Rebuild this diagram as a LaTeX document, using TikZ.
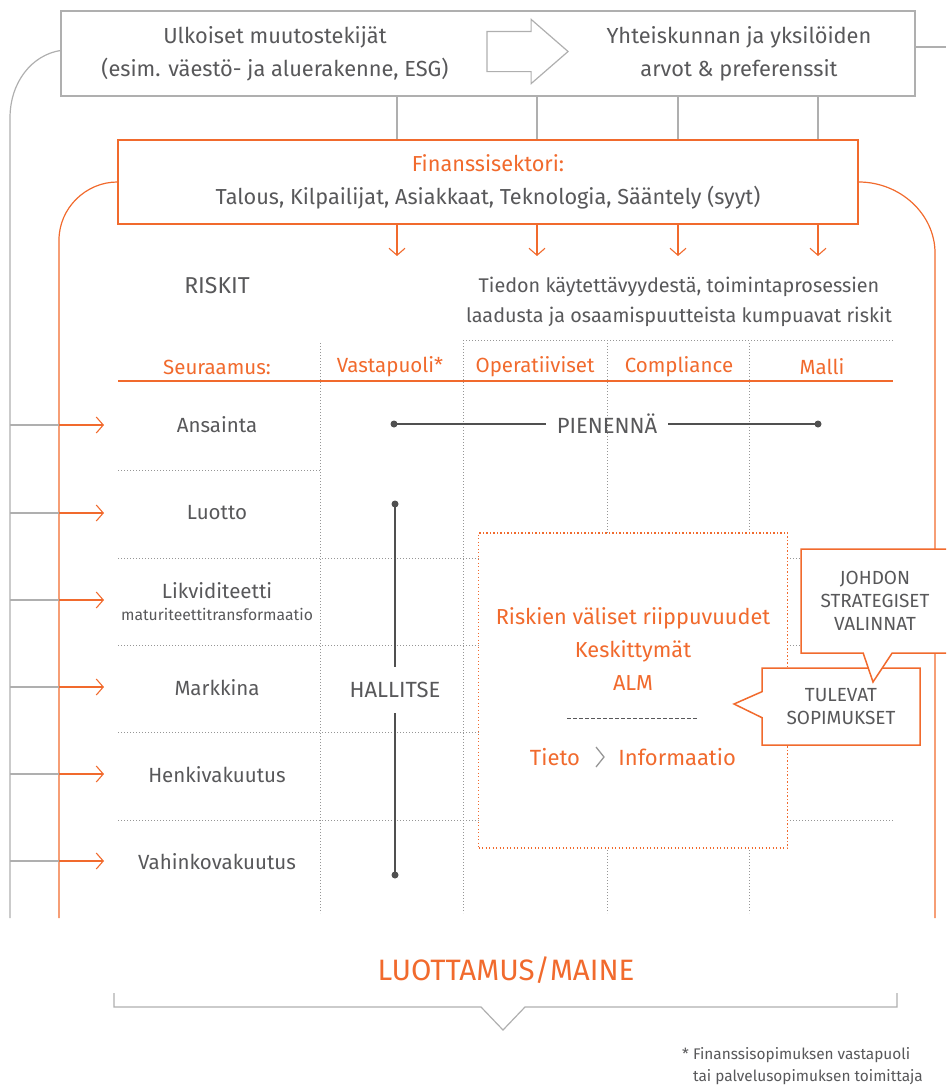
\documentclass[tikz,border=0pt]{standalone}
\usepackage{fontspec}
\setmainfont{Fira Sans}
\usetikzlibrary{positioning,shapes.arrows,shapes.callouts,arrows.meta}
\definecolor{orng}{RGB}{241,106,45}
\definecolor{txtgray}{RGB}{88,88,90}
\definecolor{lngray}{RGB}{175,175,175}
\definecolor{dotgray}{RGB}{150,150,150}
\definecolor{dkgray}{RGB}{80,80,80}
\tikzset{%
  txt/.style = {text=txtgray, font=\fontsize{20.5}{30}\selectfont,
        inner sep=2pt, align=center},
  otxt/.style = {txt, text=orng},
  graybox/.style = {rectangle, draw=lngray, line width=1.2pt, inner sep=0pt},
  orbox/.style = {rectangle, draw=orng, line width=1.4pt, fill=white,
        align=center, inner sep=0pt},
  grayline/.style = {draw=lngray, line width=1.2pt},
  orline/.style = {draw=orng, line width=1.2pt},
  orarrow/.style = {-{Straight Barb[length=7pt,width=16pt]}, draw=orng,
        line width=1.1pt},
  gridline/.style = {draw=dotgray, line width=0.8pt,
        dash pattern=on 0.9pt off 2.1pt},
  darkline/.style = {draw=dkgray, line width=1.2pt},
  callbox/.style = {rectangle callout, draw=orng, line width=1.5pt,
        fill=white, align=center, text=txtgray,
        font=\fontsize{19}{23}\selectfont}
}

\begin{document}
\begin{tikzpicture}[x=1pt,y=-1pt]
   \useasboundingbox (0,0) rectangle (946,1092);
   \clip (0,0) rectangle (946,1092);

   \node[graybox, minimum width=854pt, minimum height=85pt] (top) at (488,53.5) {};
   \node[txt, font=\fontsize{21.8}{33}\selectfont] (ulk) at (275,54)
      {Ulkoiset muutostekijät\\(esim. väestö- ja aluerakenne, ESG)};
   \node[single arrow, draw=lngray, line width=1.2pt, inner xsep=0pt,
      inner ysep=19.5pt, minimum height=81pt, single arrow head extend=12pt,
      single arrow tip angle=82] (nuoli) at (516,51.5) {};
   \node[txt, font=\fontsize{21.8}{33}\selectfont] (yht) at (739,53.5)
      {Yhteiskunnan ja yksilöiden\\arvot \& preferenssit};

   \node[orbox, minimum width=740pt, minimum height=84pt, text=txtgray,
      font=\fontsize{21.7}{33}\selectfont] (fin) at (488,182)
      {\textcolor{orng}{Finanssisektori:}\\Talous, Kilpailijat, Asiakkaat, Teknologia, Sääntely (syyt)};

   \foreach \x [count=\i] in {397,537,678,818} {
      \coordinate (k\i) at (\x,256);
      \draw[grayline] (top.south -| k\i) -- (fin.north -| k\i);
      \draw[orarrow] (fin.south -| k\i) -- (k\i);
   }

   \coordinate (gl) at (10,918);
   \coordinate (gr) at (946,47);
   \coordinate (oleft) at (59,918);
   \coordinate (oright) at (935,918);
   \draw[grayline] ([yshift=3pt]top.west) .. controls (32,55) and (10,82) .. (10,118) -- (gl);
   \draw[grayline] (top.east |- gr) -- (gr);
   \draw[orline] (fin.west) .. controls (86,182) and (59,208) .. (59,240) -- (oleft);
   \draw[orline] (fin.east) .. controls (900,182) and (935,214) .. (935,253) -- (oright);

   \node[txt, font=\fontsize{23}{24}\selectfont] (riskit) at (217,286) {RISKIT};
   \node[txt, font=\fontsize{19.8}{30}\selectfont] (tiedon) at (679,302)
      {Tiedon käytettävyydestä, toimintaprosessien\\laadusta ja osaamispuutteista kumpuavat riskit};

   % taulukon viivat
   \draw[gridline] (463,340) -- (893,340);
   \foreach \x in {320,463,607,749} \draw[gridline] (\x,343) -- (\x,913);
   \draw[gridline] (118,470) -- (320,470);
   \foreach \y in {558,645,732,820} \draw[gridline] (118,\y) -- (893,\y);
   \draw[orline] (118,381) -- (893,381);

   \foreach \x/\t [count=\i] in {217/Seuraamus:,390/Vastapuoli*,535/Operatiiviset,679/Compliance,822/Malli}
      \node[otxt] (h\i) at (\x,367) {\t};

   \foreach \y [count=\i] in {425,513,600,687,774,861} {
      \coordinate (s\i) at (59,\y);
      \coordinate (e\i) at (104,\y);
      \draw[grayline] (gl |- s\i) -- (s\i);
      \draw[orarrow] (s\i) -- (e\i);
   }

   \node[txt] (ans) at (217,425) {Ansainta};
   \node[txt] (luo) at (217,513) {Luotto};
   \node[txt] (lik) at (217,591) {Likviditeetti};
   \node[txt, font=\fontsize{15.7}{16}\selectfont, below=5pt of lik] (mat) {maturiteettitransformaatio};
   \node[txt] (mar) at (217,688) {Markkina};
   \node[txt] (hen) at (217,775) {Henkivakuutus};
   \node[txt] (vah) at (217,862) {Vahinkovakuutus};

   \node[txt, font=\fontsize{22}{24}\selectfont, inner xsep=11pt] (pien) at (607,424) {PIENENNÄ};
   \coordinate (pa) at (394,424);
   \coordinate (pb) at (818,424);
   \draw[darkline] (pa) -- (pien.west);
   \draw[darkline] (pien.east) -- (pb);
   \fill[dkgray] (pa) circle (3.5pt) (pb) circle (3.5pt);

   \node[txt, font=\fontsize{22}{24}\selectfont, inner ysep=15pt] (hal) at (395,690) {HALLITSE};
   \coordinate (ha) at (395,504);
   \coordinate (hb) at (395,875);
   \draw[darkline] (ha) -- (hal.north);
   \draw[darkline] (hal.south) -- (hb);
   \fill[dkgray] (ha) circle (3.5pt) (hb) circle (3.5pt);

   \node[rectangle, draw=orng, fill=white, line width=1.2pt,
      dash pattern=on 1.3pt off 2.2pt, minimum width=309pt,
      minimum height=315pt] (riippu) at (633,690.5) {};
   \node[otxt, font=\fontsize{21.7}{33}\selectfont] (riippu-txt) at (633,649)
      {Riskien väliset riippuvuudet\\Keskittymät\\ALM};
   \coordinate (d1) at (567,718);
   \coordinate (d2) at (698,718);
   \draw[draw=txtgray, line width=0.8pt, dash pattern=on 4pt off 2pt] (d1) -- (d2);
   \node[otxt, font=\fontsize{22}{24}\selectfont] (tieto) at (555,757) {Tieto};
   \node[otxt, font=\fontsize{22}{24}\selectfont, right=34pt of tieto] (info) {Informaatio};
   \coordinate (chv) at (600,757);
   \draw[draw=dotgray, line width=1.3pt] ([shift={(-4,-10)}]chv) -- ([shift={(4,0)}]chv) -- ([shift={(-4,10)}]chv);

   \node[callbox, minimum width=158pt, minimum height=77pt,
      callout absolute pointer={(734,704)}, callout pointer width=26pt]
      (tul) at (841,706.5) {TULEVAT\\SOPIMUKSET};
   \node[callbox, minimum width=170pt, minimum height=104pt,
      callout absolute pointer={(873,682)}, callout pointer width=29pt]
      (joh) at (886,601) {\hspace*{-22pt}JOHDON\\\hspace*{-22pt}STRATEGISET\\\hspace*{-22pt}VALINNAT};

   \node[otxt, font=\fontsize{29.5}{30}\selectfont] (maine) at (506,970) {LUOTTAMUS/MAINE};
   \draw[grayline] (114,993) -- (114,1007) -- (481,1007) -- (503,1030)
      -- (525,1007) -- (897,1007) -- (897,993);

   \node[txt, font=\fontsize{15.4}{22}\selectfont, align=left, anchor=north west]
      (alaviite) at (680,1045)
      {* Finanssisopimuksen vastapuoli\\\phantom{* }tai palvelusopimuksen toimittaja};
\end{tikzpicture}
\end{document}
